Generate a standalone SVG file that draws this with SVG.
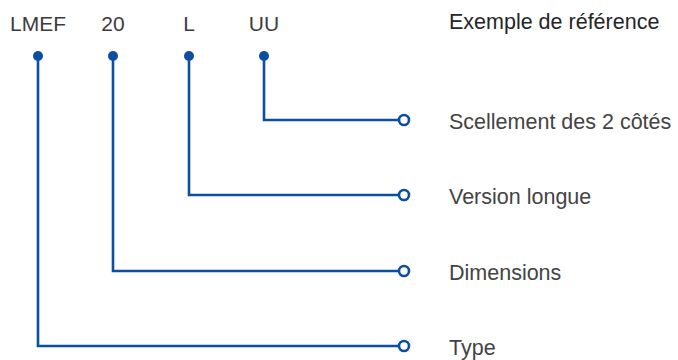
<svg xmlns="http://www.w3.org/2000/svg" width="678" height="360" viewBox="0 0 678 360">
<style>
.code{font-family:"Liberation Sans",Arial,sans-serif;font-size:21px;fill:#3c3c3c;text-anchor:middle}
.lbl{font-family:"Liberation Sans",Arial,sans-serif;font-size:21.5px;fill:#444444}
.title{font-family:"Liberation Sans",Arial,sans-serif;font-size:21.5px;fill:#262626}
.ln{fill:none;stroke:#0b4ea2;stroke-width:2.6}
.dot{fill:#0b4ea2}
.end{fill:#ffffff;stroke:#0b4ea2;stroke-width:2.6}
</style>
<rect width="678" height="360" fill="#ffffff"/>
<text class="title" x="449" y="29">Exemple de référence</text>
<g id="node-lmef"><text class="code" x="38" y="31">LMEF</text><circle class="dot" cx="38" cy="56" r="5"/></g>
<g id="node-20"><text class="code" x="113" y="31">20</text><circle class="dot" cx="113" cy="56" r="5"/></g>
<g id="node-l"><text class="code" x="189" y="31">L</text><circle class="dot" cx="189" cy="56" r="5"/></g>
<g id="node-uu"><text class="code" x="264" y="31">UU</text><circle class="dot" cx="264" cy="56" r="5"/></g>
<g id="connectors">
<path class="ln" d="M264 56V120H398"/>
<path class="ln" d="M189 56V195H398"/>
<path class="ln" d="M113 56V271H398"/>
<path class="ln" d="M38 56V346H398"/>
<circle class="end" cx="404" cy="120" r="5"/>
<circle class="end" cx="404" cy="195" r="5"/>
<circle class="end" cx="404" cy="271" r="5"/>
<circle class="end" cx="404" cy="346" r="5"/>
</g>
<g id="label-scellement"><text class="lbl" x="449" y="129">Scellement des 2 côtés</text></g>
<g id="label-version"><text class="lbl" x="449" y="204">Version longue</text></g>
<g id="label-dimensions"><text class="lbl" x="449" y="280">Dimensions</text></g>
<g id="label-type"><text class="lbl" x="449" y="355">Type</text></g>
</svg>
